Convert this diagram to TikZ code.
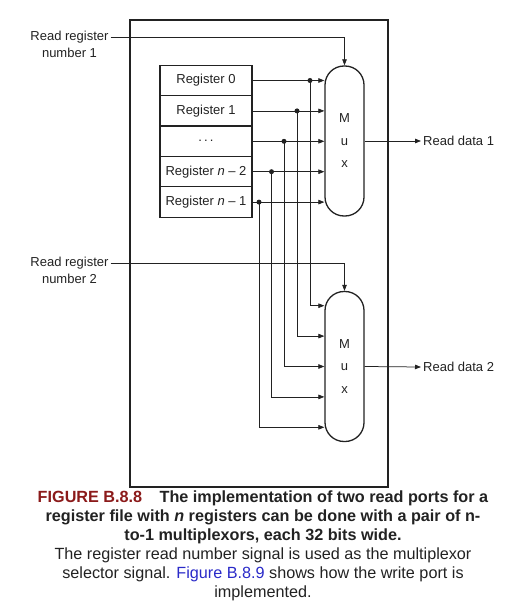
\documentclass[tikz,border=0pt]{standalone}
\usepackage{fontspec}
\setmainfont{Liberation Sans}
\usetikzlibrary{arrows.meta,positioning,calc}
\definecolor{ink}{HTML}{222222}
\definecolor{figred}{HTML}{8B1A1A}
\definecolor{figblue}{HTML}{2A2AC8}
\tikzset{
  >={Triangle[length=6pt,width=4.5pt]},
  every node/.style={font=\fontsize{13}{16}\selectfont,text=ink},
  filebox/.style={draw=ink,line width=1.3pt,inner sep=0pt},
  regbox/.style={draw=ink,line width=1.2pt,minimum width=92pt,minimum height=30.4pt,inner sep=0pt},
  muxbox/.style={draw=ink,line width=1.3pt,rounded corners=19pt,minimum width=39pt,minimum height=150pt,inner sep=0pt,align=center},
  wire/.style={draw=ink,line width=0.75pt},
  arrow/.style={wire,->},
  tap/.style={circle,fill=ink,inner sep=0pt,minimum size=5pt},
  portlabel/.style={inner xsep=2pt,inner ysep=0pt},
  caption/.style={font=\fontsize{16.2}{19}\selectfont,align=center,inner sep=0pt},
}
\begin{document}
\begin{tikzpicture}[x=1pt,y=-1pt]
\useasboundingbox (0,0) rectangle (519,612);

% Register file outline
\node[filebox,minimum width=258pt,minimum height=467pt] (file) at (259,253.5) {};

% Registers
\node[regbox] (r0) at (206,80.5) {Register 0};
\node[regbox,below=-1.2pt of r0] (r1) {Register 1};
\node[regbox,below=-1.2pt of r1] (r2) {.\,.\,.};
\node[regbox,below=-1.2pt of r2] (r3) {Register \textit{n} – 2};
\node[regbox,below=-1.2pt of r3] (r4) {Register \textit{n} – 1};

% Multiplexors
\node[muxbox] (mux1) at (344.5,141) {M\\[6.5pt]u\\[6.5pt]x};
\node[muxbox] (mux2) at (344.5,366.5) {M\\[6.5pt]u\\[6.5pt]x};

% Port labels
\node[portlabel] (sel1) at (69.5,37) {Read register};
\node[portlabel] (sel1n) at (69.5,53) {number 1};
\node[portlabel] (sel2) at (69.5,263) {Read register};
\node[portlabel] (sel2n) at (69.5,279) {number 2};
\node[portlabel,anchor=west] (out1) at (421,141) {Read data 1};
\node[portlabel,anchor=west] (out2) at (421,367) {Read data 2};

% Select and output wires
\draw[arrow] (sel1.east) -| (mux1.north);
\draw[arrow] (sel2.east) -| (mux2.north);
\draw[arrow] (mux1.east) -- (out1.west);
\draw[arrow] (mux2.east) -- (out2.west);

% Register outputs to both multiplexors
\foreach \i/\x in {0/310,1/297,2/284,3/271.5,4/259} {
  \coordinate (col\i) at (\x,0);
  \coordinate (t\i) at (r\i.east -| col\i);
  \draw[arrow] (r\i.east) -- (r\i.east -| mux1.west);
  \draw[arrow] (t\i) |- ([yshift={(2-\i)*30.4pt}]mux2.west);
  \node[tap] (dot\i) at (t\i) {};
}

% Caption
\node[caption,anchor=north] (cap) at (263,491) {%
  \textbf{\color{figred}FIGURE B.8.8}\hspace{0.8em} \textbf{The implementation of two read ports for a}\\
  \textbf{register file with \textit{n} registers can be done with a pair of n-}\\
  \textbf{to-1 multiplexors, each 32 bits wide.}\\
  The register read number signal is used as the multiplexor\\
  selector signal. {\color{figblue}Figure B.8.9} shows how the write port is\\
  implemented.};

\end{tikzpicture}
\end{document}
